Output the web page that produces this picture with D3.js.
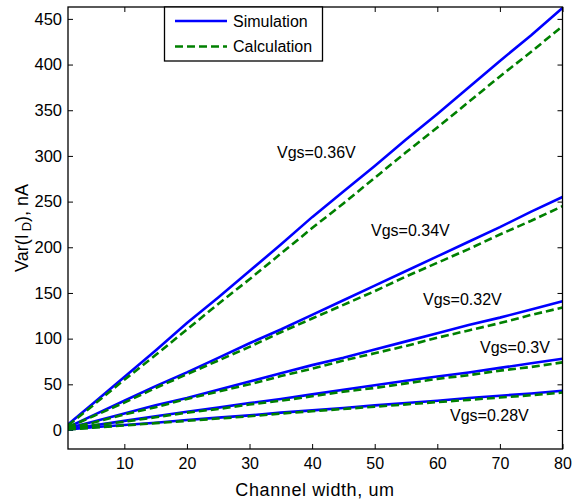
<!DOCTYPE html>
<html>
<head>
<meta charset="utf-8">
<script src="https://cdn.jsdelivr.net/npm/d3@7"></script>
<style>
body { margin: 0; background: #fff; }
svg text { font-family: "Liberation Sans", Arial, sans-serif; fill: #000; }
</style>
</head>
<body>
<svg id="chart"></svg>
<script>
// ширина канала, um
let widths = [1, 5, 10, 15, 20, 25, 30, 35, 40, 45, 50, 55, 60, 65, 70, 75, 80];

// Simulation
let sim036 = [6, 29, 58, 87, 117, 145, 174, 203, 233, 261, 289, 318, 346, 375, 404, 432, 462];
let sim034 = [3, 16, 32, 48, 63, 79, 95, 110, 126, 142, 158, 174, 190, 206, 222, 239, 255];
let sim032 = [2, 9, 18, 27, 35, 44, 53, 62, 71, 79, 88, 97, 106, 115, 123, 132, 141];
let sim030 = [1, 5, 10, 15, 20, 24.5, 29.5, 34, 39, 44, 49, 54, 58.5, 63, 68, 73, 78];
let sim028 = [0.5, 3, 5.5, 8, 11, 13.5, 16, 19, 21.5, 24, 27, 29.5, 32, 35, 37.5, 40, 43];

// Calculation
let calc036 = [5, 27, 55, 82, 110, 138, 165, 193, 221, 248, 276, 304, 331, 359, 387, 414, 442];
let calc034 = [3, 15, 30, 46, 61, 76, 91, 107, 122, 137, 152, 168, 183, 198, 214, 229, 245];
let calc032 = [2, 8, 17, 25, 34, 42, 50, 59, 67, 76, 84, 92, 101, 109, 117, 126, 134];
let calc030 = [1, 5, 9, 14, 19, 23, 28, 32, 37, 42, 46, 51, 56, 60, 65, 69, 74];
let calc028 = [0.5, 2.5, 5, 7.5, 10, 12.5, 15, 18, 20.5, 23, 25.5, 28, 30.5, 33, 35.5, 38, 41];

let labels = ["Vgs=0.36V", "Vgs=0.34V", "Vgs=0.32V", "Vgs=0.3V", "Vgs=0.28V"];
let xTicks = [10, 20, 30, 40, 50, 60, 70, 80];
let yTicks = [0, 50, 100, 150, 200, 250, 300, 350, 400, 450];

let width = 573, height = 501;
let pLeft = 68, pRight = 562.5, pTop = 7, pBottom = 449;

let svg = d3.select("#chart").attr("width", width).attr("height", height);

let scaleX = d3.scaleLinear().domain([1, 80]).range([pLeft, pRight]);
let scaleY = d3.scaleLinear().domain([-20.8, 463]).range([pBottom, pTop]);

// оси (засечки внутрь, со всех сторон)
svg.append("g")
    .attr("transform", `translate(0, ${pBottom})`)
    .call(d3.axisBottom(scaleX).tickValues(xTicks).tickSizeInner(-5).tickSizeOuter(0).tickPadding(9))
    .call(g => g.select(".domain").remove())
    .selectAll("text").style("font-size", "16px");

svg.append("g")
    .attr("transform", `translate(0, ${pTop})`)
    .call(d3.axisTop(scaleX).tickValues(xTicks).tickSizeInner(-5).tickSizeOuter(0).tickFormat(""))
    .call(g => g.select(".domain").remove());

svg.append("g")
    .attr("transform", `translate(${pLeft}, 0)`)
    .call(d3.axisLeft(scaleY).tickValues(yTicks).tickSizeInner(-5).tickSizeOuter(0).tickPadding(6))
    .call(g => g.select(".domain").remove())
    .selectAll("text").style("font-size", "16.5px");

svg.append("g")
    .attr("transform", `translate(${pRight}, 0)`)
    .call(d3.axisRight(scaleY).tickValues(yTicks).tickSizeInner(-5).tickSizeOuter(0).tickFormat(""))
    .call(g => g.select(".domain").remove());

svg.selectAll(".tick line").attr("stroke", "#000");

// линии
let line = d3.line()
    .x((d, i) => scaleX(widths[i]))
    .y(d => scaleY(d));

let simAll = [sim036, sim034, sim032, sim030, sim028];
let calcAll = [calc036, calc034, calc032, calc030, calc028];

svg.append("clipPath").attr("id", "clip")
    .append("rect").attr("x", pLeft).attr("y", pTop)
    .attr("width", pRight - pLeft).attr("height", pBottom - pTop);

let plot = svg.append("g").attr("clip-path", "url(#clip)");

plot.selectAll(".sim")
    .data(simAll)
    .enter()
    .append("path")
    .attr("class", "sim")
    .attr("d", line)
    .attr("fill", "none")
    .attr("stroke", "#0000ff")
    .attr("stroke-width", 2.6);

plot.selectAll(".calc")
    .data(calcAll)
    .enter()
    .append("path")
    .attr("class", "calc")
    .attr("d", line)
    .attr("fill", "none")
    .attr("stroke", "#008000")
    .attr("stroke-width", 2.6)
    .attr("stroke-dasharray", "8,4");

// рамка
svg.append("rect")
    .attr("x", pLeft).attr("y", pTop)
    .attr("width", pRight - pLeft).attr("height", pBottom - pTop)
    .attr("fill", "none").attr("stroke", "#000").attr("stroke-width", 1.3);

// подписи кривых
let labelPos = [[277, 152], [371, 230], [423, 299], [480, 347], [450, 415]];
svg.selectAll(".lbl")
    .data(labels)
    .enter()
    .append("text")
    .attr("class", "lbl")
    .attr("x", (d, i) => labelPos[i][0])
    .attr("y", (d, i) => labelPos[i][1])
    .attr("dy", "0.35em")
    .style("font-size", "16px")
    .text(d => d);

// легенда
let legend = svg.append("g");
legend.append("rect")
    .attr("x", 164.5).attr("y", pTop)
    .attr("width", 158).attr("height", 54)
    .attr("fill", "#fff").attr("stroke", "#000").attr("stroke-width", 1.3);
legend.append("line")
    .attr("x1", 175).attr("x2", 227).attr("y1", 21).attr("y2", 21)
    .attr("stroke", "#0000ff").attr("stroke-width", 2.6);
legend.append("line")
    .attr("x1", 175).attr("x2", 227).attr("y1", 46.5).attr("y2", 46.5)
    .attr("stroke", "#008000").attr("stroke-width", 2.6).attr("stroke-dasharray", "8,4");
legend.append("text").attr("x", 233).attr("y", 21).attr("dy", "0.35em")
    .style("font-size", "16px").text("Simulation");
legend.append("text").attr("x", 233).attr("y", 46.5).attr("dy", "0.35em")
    .style("font-size", "16px").text("Calculation");

// подписи осей
svg.append("text")
    .attr("x", 315).attr("y", 490)
    .attr("dy", "0.35em")
    .attr("text-anchor", "middle")
    .style("font-size", "18px")
    .style("letter-spacing", "0.6px")
    .text("Channel width, um");

let yl = svg.append("text")
    .attr("transform", "translate(22, 228) rotate(-90)")
    .attr("dy", "0.35em")
    .attr("text-anchor", "middle")
    .style("font-size", "18px");
yl.append("tspan").text("Var(I");
yl.append("tspan").attr("dx", "3").attr("dy", "3").style("font-size", "13px").text("D");
yl.append("tspan").attr("dy", "-3").text("), nA");
</script>
</body>
</html>
